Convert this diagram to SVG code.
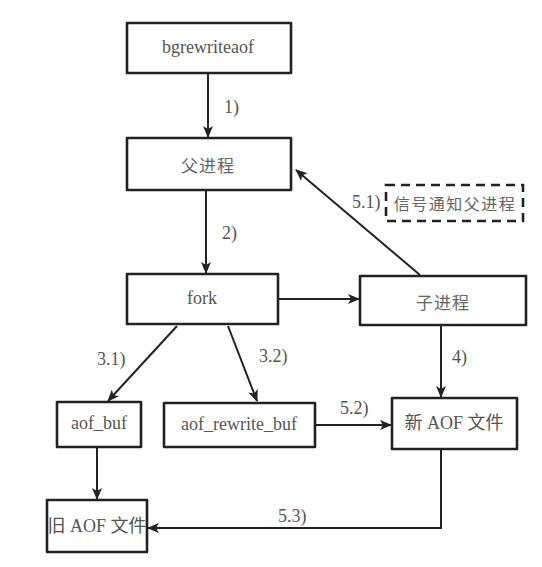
<svg xmlns="http://www.w3.org/2000/svg" width="542" height="567" viewBox="0 0 542 567">
<defs>
<marker id="ah" viewBox="0 0 12 10" refX="11" refY="5" markerWidth="12" markerHeight="10" markerUnits="userSpaceOnUse" orient="auto">
<path d="M0,0 L12,5 L0,10 L3,5 z" fill="#222"/>
</marker>
<style>
.box{fill:#fff;stroke:#222;stroke-width:2.6;stroke-linejoin:round}
.dash{fill:none;stroke:#222;stroke-width:2.6;stroke-dasharray:9 6}
.t{font-family:"Liberation Serif","Noto Sans CJK SC",serif;font-size:18px;fill:#555;text-anchor:middle;dominant-baseline:central}
.z{font-family:"Noto Sans CJK SC",sans-serif;font-size:17px;fill:#666;text-anchor:middle;dominant-baseline:central;letter-spacing:1px}
.l{font-family:"Liberation Serif","Noto Sans CJK SC",serif;font-size:18px;fill:#555;dominant-baseline:central}
.c{fill:none;stroke:#222;stroke-width:2;marker-end:url(#ah)}
</style>
</defs>
<rect width="542" height="567" fill="#fff"/>
<g id="connectors">
<line class="c" x1="208" y1="74" x2="208" y2="137"/>
<line class="c" x1="206" y1="191" x2="206" y2="273"/>
<line class="c" x1="279" y1="299" x2="359" y2="299"/>
<line class="c" x1="420" y1="275" x2="296" y2="170"/>
<line class="c" x1="177" y1="326" x2="108" y2="401"/>
<line class="c" x1="228" y1="326" x2="257" y2="401"/>
<line class="c" x1="441" y1="326" x2="441" y2="397"/>
<line class="c" x1="316" y1="425" x2="391" y2="425"/>
<line class="c" x1="97" y1="448" x2="97" y2="499"/>
<polyline class="c" points="441,450 441,528 148,528"/>
<text class="l" x="224" y="107">1)</text>
<text class="l" x="222" y="233">2)</text>
<text class="l" x="97" y="359">3.1)</text>
<text class="l" x="259" y="356">3.2)</text>
<text class="l" x="452" y="357">4)</text>
<text class="l" x="340" y="408">5.2)</text>
<text class="l" x="278" y="516">5.3)</text>
<text class="l" x="352" y="202">5.1)</text>
</g>
<g id="bgrewriteaof"><rect class="box" x="127" y="23" width="164" height="50"/><text class="t" x="208" y="47">bgrewriteaof</text></g>
<g id="parent"><rect class="box" x="127" y="138" width="164" height="52"/><text class="z" x="208" y="164">父进程</text></g>
<g id="signal"><rect class="dash" x="386" y="185" width="137" height="36"/><text class="z" x="455" y="203" style="font-size:16px;letter-spacing:1.5px">信号通知父进程</text></g>
<g id="fork"><rect class="box" x="127" y="274" width="151" height="50"/><text class="t" x="202" y="298">fork</text></g>
<g id="child"><rect class="box" x="360" y="276" width="166" height="49"/><text class="z" x="443" y="301">子进程</text></g>
<g id="aof_buf"><rect class="box" x="57" y="402" width="84" height="45"/><text class="t" x="99" y="423">aof_buf</text></g>
<g id="aof_rewrite_buf"><rect class="box" x="164" y="403" width="151" height="44"/><text class="t" x="239" y="424">aof_rewrite_buf</text></g>
<g id="newaof"><rect class="box" x="392" y="398" width="125" height="51"/><text class="t" x="454" y="423">新 AOF 文件</text></g>
<g id="oldaof"><rect class="box" x="47" y="500" width="100" height="52"/><text class="t" x="97" y="526">旧 AOF 文件</text></g>
</svg>
